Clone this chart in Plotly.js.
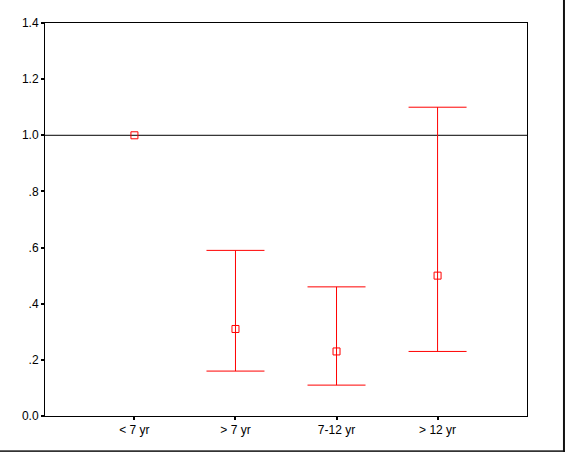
<!DOCTYPE html>
<html>
<head>
<meta charset="utf-8">
<script src="https://cdn.plot.ly/plotly-3.0.1.min.js"></script>
<style>html,body{margin:0;padding:0;background:#fff;}#chart{width:565px;height:452px;}</style>
</head>
<body>
<div id="chart"></div>
<script>
const categories = ["< 7 yr", "> 7 yr", "7-12 yr", "> 12 yr"];
const estimates = [1.0, 0.31, 0.23, 0.50];
const upper = [null, 0.59, 0.46, 1.10];
const lower = [null, 0.16, 0.11, 0.23];
const yTickVals = [0, 0.2, 0.4, 0.6, 0.8, 1.0, 1.2, 1.4];
const yTickText = ["0.0", ".2", ".4", ".6", ".8", "1.0", "1.2", "1.4"];
const refValue = 1.0;

const xPos = categories.map((c, i) => i);
const withCI = xPos.filter(i => upper[i] != null);
const noCI = xPos.filter(i => upper[i] == null);

const markerStyle = {symbol: "square-open", size: 7, color: "#ff0000", line: {width: 1, color: "#ff0000"}};

const traceCI = {
  type: "scatter",
  mode: "markers",
  x: withCI,
  y: withCI.map(i => estimates[i]),
  marker: markerStyle,
  error_y: {type: "data", symmetric: false,
            array: withCI.map(i => upper[i] - estimates[i]),
            arrayminus: withCI.map(i => estimates[i] - lower[i]),
            color: "#ff0000", thickness: 1, width: 29},
  hoverinfo: "none",
  showlegend: false
};
const traceRef = {
  type: "scatter",
  mode: "markers",
  x: noCI,
  y: noCI.map(i => estimates[i]),
  marker: markerStyle,
  hoverinfo: "none",
  showlegend: false
};

const layout = {
  width: 565, height: 452,
  margin: {l: 45, r: 38, t: 23, b: 36},
  paper_bgcolor: "#ffffff",
  plot_bgcolor: "#ffffff",
  font: {family: "Liberation Sans, Arial, sans-serif", size: 12, color: "#000"},
  xaxis: {
    range: [-0.885, 3.885],
    tickvals: xPos, ticktext: categories,
    showgrid: false, zeroline: false,
    showline: true, linecolor: "#000", linewidth: 1, mirror: true,
    ticks: "outside", ticklen: 3, tickwidth: 2, tickcolor: "#000",
    fixedrange: true
  },
  yaxis: {
    range: [0, 1.4],
    tickvals: yTickVals, ticktext: yTickText,
    showgrid: false, zeroline: false,
    showline: true, linecolor: "#000", linewidth: 1, mirror: true,
    ticks: "outside", ticklen: 3, tickwidth: 2, tickcolor: "#000",
    fixedrange: true
  },
  shapes: [
    {type: "line", xref: "paper", yref: "y", x0: 0, x1: 1, y0: refValue, y1: refValue,
     line: {color: "#000", width: 1}, layer: "below"},
    {type: "line", xref: "paper", yref: "paper", x0: -0.1, x1: 1.1, y0: -0.0894, y1: -0.0894,
     line: {color: "#333", width: 2}},
    {type: "line", xref: "paper", yref: "paper", x0: 1.0767, x1: 1.0767, y0: -0.1, y1: 1.1,
     line: {color: "#111", width: 2}}
  ]
};

Plotly.newPlot("chart", [traceCI, traceRef], layout, {displayModeBar: false, staticPlot: true});
</script>
</body>
</html>
